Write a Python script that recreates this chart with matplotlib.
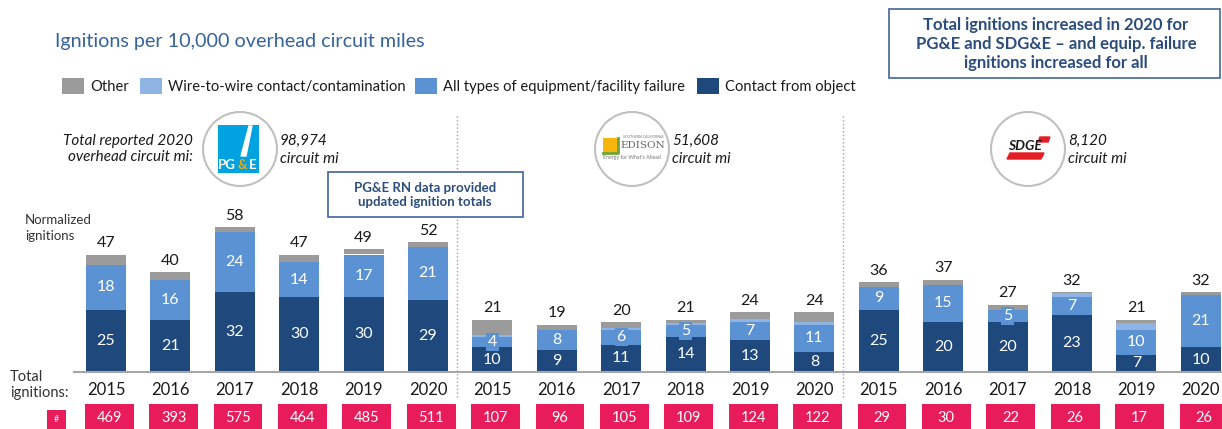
import matplotlib
matplotlib.use('Agg')
import matplotlib.pyplot as plt
import matplotlib.patches as mpatches
import matplotlib.transforms as mtransforms
import numpy as np

plt.rcParams['font.family'] = ['Lato', 'DejaVu Sans']

# data: 6 years x 3 utilities (PG&E, SCE, SDG&E)
years = ['2015', '2016', '2017', '2018', '2019', '2020'] * 3
contact = [25, 21, 32, 30, 30, 29, 10, 9, 11, 14, 13, 8, 25, 20, 20, 23, 7, 10]
equip = [18, 16, 24, 14, 17, 21, 4, 8, 6, 5, 7, 11, 9, 15, 5, 7, 10, 21]
wire = [0, 0, 0, 0, 0, 0, 1, 0, 0.5, 0.7, 1.3, 1.2, 0, 0, 0, 1.5, 2.8, 0]
other = [4, 3, 2, 3, 2, 2, 6, 2, 2.5, 1.3, 2.7, 3.8, 2, 2, 2, 0.5, 1.2, 1]
totals = [47, 40, 58, 47, 49, 52, 21, 19, 20, 21, 24, 24, 36, 37, 27, 32, 21, 32]
ignitions = [469, 393, 575, 464, 485, 511, 107, 96, 105, 109, 124, 122,
             29, 30, 22, 26, 17, 26]
miles = ['98,974', '51,608', '8,120']

C_CONTACT = '#1F487C'
C_EQUIP = '#5A92D4'
C_WIRE = '#8DB4E2'
C_OTHER = '#9B9B9B'
PINK = '#E91C5B'
NAVY = '#2B4C7E'

W, H = 1222, 429
fig = plt.figure(figsize=(W / 100, H / 100), dpi=100)


def fx(px):
    return px / W


def fy(py):
    return 1 - py / H


ax = fig.add_axes([fx(74), fy(372), fx(1222) - fx(74), fy(110) - fy(372)])
n = len(totals)
x = np.arange(n)
ax.set_xlim((74 - 106) / 64.4, (1222 - 106) / 64.4)
ax.set_ylim(0, 262 / 2.5)

bottom = np.zeros(n)
for vals, col in [(contact, C_CONTACT), (equip, C_EQUIP), (wire, C_WIRE), (other, C_OTHER)]:
    ax.bar(x, vals, bottom=bottom, width=0.62, color=col, linewidth=0, zorder=2)
    bottom += np.array(vals, dtype=float)

for i in range(n):
    ax.text(i, contact[i] / 2, str(contact[i]), ha='center', va='center',
            color='white', fontsize=11.5, zorder=3)
    box = None
    if equip[i] <= 6:
        box = dict(boxstyle='square,pad=0.12', fc=C_EQUIP, ec='none')
    ax.text(i, contact[i] + equip[i] / 2, str(equip[i]), ha='center', va='center',
            color='white', fontsize=11.5, zorder=3, bbox=box)
    ax.annotate(str(totals[i]), (i, bottom[i]), xytext=(0, 3), textcoords='offset points',
                ha='center', va='bottom', fontsize=11.5, color='#1A1A1A')

ax.set_xticks([])
ax.set_yticks([])
for s in ['top', 'right', 'left']:
    ax.spines[s].set_visible(False)
ax.spines['bottom'].set_color('#A6A6A6')
ax.spines['bottom'].set_linewidth(1.5)

# year labels, pink total boxes, group dividers
blend = mtransforms.blended_transform_factory(ax.transData, fig.transFigure)
for i in range(n):
    ax.text(i, fy(390), years[i], transform=blend, ha='center', va='center',
            fontsize=12, color='#1A1A1A', clip_on=False)
    ax.add_patch(mpatches.Rectangle((i - 0.33, fy(435)), 0.76, (435 - 404) / H,
                                    transform=blend, fc=PINK, ec='none', clip_on=False))
    ax.text(i + 0.05, fy(418), str(ignitions[i]), transform=blend, ha='center', va='center',
            fontsize=10.5, color='white', clip_on=False)
for g in [5.45, 11.45]:
    ax.add_line(plt.Line2D([g, g], [fy(397), fy(114)], transform=blend, ls=':',
                           color='#A0A0A0', lw=1, clip_on=False))

# overlay in pixel coordinates for annotations
ov = fig.add_axes([0, 0, 1, 1])
ov.set_xlim(0, W)
ov.set_ylim(H, 0)
ov.axis('off')
ov.patch.set_alpha(0)

ov.text(55, 42, 'Ignitions per 10,000 overhead circuit miles', fontsize=14.2,
        color='#36639C', va='center')

legend = [('Other', C_OTHER, 62), ('Wire-to-wire contact/contamination', C_WIRE, 140),
          ('All types of equipment/facility failure', C_EQUIP, 415),
          ('Contact from object', C_CONTACT, 697)]
for lab, col, lx in legend:
    ov.add_patch(mpatches.Rectangle((lx, 78), 22, 16, fc=col, ec='none'))
    ov.text(lx + 28, 87, lab, fontsize=10.6, va='center', color='#1A1A1A')

# top-right callout
ov.add_patch(mpatches.Rectangle((889, 9), 331, 69, fc='white', ec='#4F71A0', lw=1.3))
ov.text(1056, 44, 'Total ignitions increased in 2020 for\nPG&E and SDG&E \u2013 and equip. failure\n'
        'ignitions increased for all', ha='center', va='center', fontsize=12,
        fontweight='bold', color=NAVY, linespacing=1.25)

# PG&E RN callout
ov.add_patch(mpatches.Rectangle((328, 172), 195, 45, fc='white', ec='#3F63A0', lw=1.2))
ov.text(425, 195, 'PG&E RN data provided\nupdated ignition totals', ha='center',
        va='center', fontsize=9.5, fontweight='bold', color=NAVY, linespacing=1.3)

ov.text(193, 149, 'Total reported 2020\noverhead circuit mi:', ha='right', va='center',
        fontsize=11, style='italic', color='#1A1A1A', linespacing=1.25)
ov.text(25, 228, 'Normalized\nignitions', ha='left', va='center', fontsize=9.5,
        color='#333333', linespacing=1.35)
ov.text(10, 385, 'Total\nignitions:', ha='left', va='center', fontsize=10.5,
        color='#333333', linespacing=1.2)
ov.add_patch(mpatches.Rectangle((47, 410), 19, 25, fc=PINK, ec='none'))
ov.text(56.5, 420, '#', ha='center', va='center', fontsize=6.5, color='white')

# logos (approximate) and circuit miles
for cx, m in zip([240, 632, 1028], miles):
    ov.add_patch(mpatches.Circle((cx, 149), 37, fc='white', ec='#C0C0C0', lw=1.5))
    ov.text(cx + 40, 150, m + '\ncircuit mi', ha='left', va='center', fontsize=11,
            style='italic', color='#1A1A1A', linespacing=1.3)

# PG&E
ov.add_patch(mpatches.Rectangle((218, 125), 41, 48, fc='#00A3E0', ec='none'))
ov.fill([249, 252, 246, 241], [126, 126, 156, 156], color='white')
ov.text(226.5, 165, 'PG', ha='center', va='center', fontsize=9.5, fontweight='bold',
        color='white')
ov.text(242.5, 165, '&', ha='center', va='center', fontsize=9.5, fontweight='bold',
        color='#F7A800')
ov.text(253, 165, 'E', ha='center', va='center', fontsize=9.5, fontweight='bold',
        color='white')

# SCE
ov.add_patch(mpatches.Rectangle((603, 138), 15, 15, fc='#F7B50F', ec='none'))
ov.plot([603, 618, 618], [153, 153, 138], color='#6BA539', lw=2)
ov.text(643, 137, 'SOUTHERN CALIFORNIA', ha='center', va='center', fontsize=2.5, color='#777777')
ov.text(643, 146, 'EDISON', ha='center', va='center', fontsize=7.5, color='#666666',
        family='DejaVu Serif')
ov.text(632, 158, "Energy for What's Ahead", ha='center', va='center', fontsize=3.8,
        color='#777777')

# SDG&E
ov.fill([1010, 1044, 1041, 1007], [153, 153, 159, 159], color='#E41E26')
ov.fill([1040, 1050, 1048, 1038], [137, 137, 142, 142], color='#E41E26')
ov.text(1025, 146, 'SDGE', ha='center', va='center', fontsize=10, fontweight='bold',
        style='italic', color='#1A1A1A')

fig.savefig('out.png', dpi=100, facecolor='white')
